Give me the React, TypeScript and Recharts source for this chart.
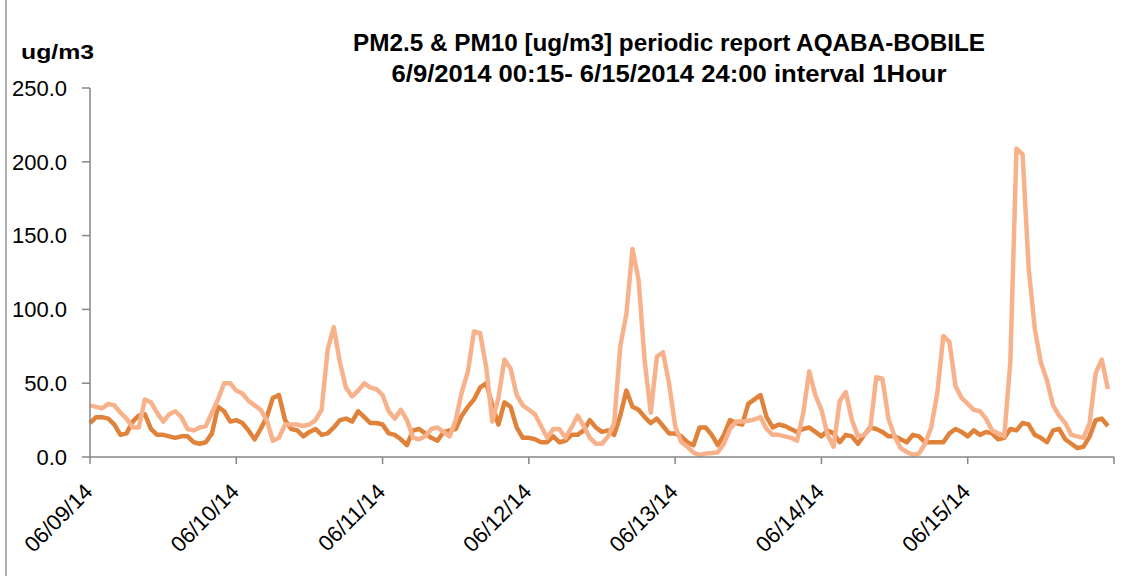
import React from 'react';
import { LineChart, Line, XAxis, YAxis } from 'recharts';

const dayLabels = ['06/09/14', '06/10/14', '06/11/14', '06/12/14', '06/13/14', '06/14/14', '06/15/14'];
const xTicks = [0, 24, 48, 72, 96, 120, 144, 168];
const yTicks = [0, 50, 100, 150, 200, 250];

const titleLine1 = 'PM2.5 & PM10 [ug/m3] periodic report AQABA-BOBILE';
const titleLine2 = '6/9/2014 00:15- 6/15/2014 24:00 interval 1Hour';
const unitLabel = 'ug/m3';

// PM2.5 hourly (dark orange)
const pm25 = [
  23, 27, 27, 26, 22, 15, 16, 24, 28, 29, 19, 15, 15, 14, 13, 14, 14, 10, 9, 10, 16, 34, 31, 24,
  25, 23, 18, 12, 19, 27, 40, 42, 25, 19, 18, 14, 17, 19, 15, 16, 20, 25, 26, 24, 31, 27, 23, 23,
  22, 16, 15, 12, 8, 18, 19, 16, 13, 11, 17, 18, 19, 28, 34, 39, 47, 50, 35, 22, 37, 34, 20, 13,
  13, 12, 10, 10, 14, 10, 11, 15, 15, 18, 25, 20, 17, 18, 15, 28, 45, 34, 32, 27, 23, 26, 21, 16,
  16, 14, 10, 8, 20, 20, 15, 8, 15, 25, 23, 22, 36, 39, 42, 27, 20, 22, 21, 19, 17, 19, 20, 17,
  14, 18, 16, 10, 15, 14, 9, 15, 20, 19, 17, 14, 14, 12, 10, 15, 14, 10, 10, 10, 10, 16, 19, 17,
  14, 18, 15, 17, 16, 12, 13, 19, 18, 23, 22, 15, 13, 10, 18, 19, 12, 9, 6, 7, 14, 25, 26, 21,
];

// PM10 hourly (light salmon)
const pm10 = [
  35, 34, 33, 36, 35, 30, 26, 20, 20, 39, 37, 30, 24, 29, 31, 27, 19, 18, 20, 21, 30, 39, 50, 50,
  45, 43, 38, 35, 32, 25, 11, 13, 22, 22, 22, 21, 22, 25, 32, 73, 88, 64, 47, 41, 45, 50, 47, 46,
  42, 31, 26, 32, 25, 13, 12, 14, 19, 20, 17, 14, 25, 44, 58, 85, 84, 61, 24, 40, 66, 60, 42, 35,
  32, 29, 21, 13, 19, 19, 13, 20, 28, 21, 13, 9, 9, 14, 23, 75, 97, 141, 120, 65, 30, 68, 71, 50,
  21, 10, 7, 3, 1.5, 2.3, 2.7, 3.2, 9, 19, 24, 24, 24.5, 25.4, 27, 19, 15, 15, 14, 13, 11, 29.5, 58, 42,
  32, 15, 7, 38, 44, 25, 14, 15, 19, 54, 53, 26, 14, 6, 3.4, 1.5, 2.3, 9, 20, 43, 82, 78, 48, 40,
  36, 32, 31, 26, 18, 16, 14, 65, 209, 205, 128, 87, 64, 52, 35, 28, 23, 15, 14, 13, 23, 57, 66, 46,
];

const data = pm25.map((v, i) => ({ h: i, pm25: v, pm10: pm10[i] }));

const FONT = '"Liberation Sans", Arial, sans-serif';
const AXIS = '#868686';

const XTick = (props: any) => {
  const { x, y, payload } = props;
  const idx = xTicks.indexOf(payload.value);
  if (idx < 0 || idx >= dayLabels.length) return <g />;
  const ax = x + 4;
  const ay = y + 28;
  return (
    <text
      x={ax}
      y={ay}
      textAnchor="end"
      transform={`rotate(-45, ${ax}, ${ay})`}
      fontFamily={FONT}
      fontSize={22}
      fill="#000"
    >
      {dayLabels[idx]}
    </text>
  );
};

export default function App() {
  return (
    <div style={{ position: 'absolute', left: 0, top: 0, width: 1139, height: 576, background: '#fff' }}>
      <LineChart
        width={1139}
        height={576}
        data={data}
        margin={{ top: 88, right: 25, bottom: 19, left: 0 }}
      >
        <XAxis
          dataKey="h"
          type="number"
          domain={[0, 168]}
          ticks={xTicks}
          interval={0}
          height={100}
          tick={<XTick />}
          tickSize={7}
          tickMargin={1}
          axisLine={{ stroke: AXIS, strokeWidth: 1.5 }}
          tickLine={{ stroke: AXIS, strokeWidth: 1.5 }}
        />
        <YAxis
          type="number"
          domain={[0, 250]}
          ticks={yTicks}
          interval={0}
          width={90}
          tickFormatter={(v: number) => v.toFixed(1)}
          tick={{ fill: '#000', fontSize: 22, fontFamily: FONT }}
          tickSize={8}
          tickMargin={15}
          axisLine={{ stroke: AXIS, strokeWidth: 1.5 }}
          tickLine={{ stroke: AXIS, strokeWidth: 1.5 }}
        />
        <Line
          dataKey="pm25"
          stroke="#E0823A"
          strokeWidth={4.5}
          dot={false}
          activeDot={false}
          strokeLinejoin="round"
          isAnimationActive={false}
        />
        <Line
          dataKey="pm10"
          stroke="#F7B28C"
          strokeWidth={4.5}
          dot={false}
          activeDot={false}
          strokeLinejoin="round"
          isAnimationActive={false}
        />
      </LineChart>
      <svg
        width={1139}
        height={576}
        style={{ position: 'absolute', left: 0, top: 0, pointerEvents: 'none' }}
      >
        <line x1={6} y1={0} x2={6} y2={576} stroke="#9a9a9a" strokeWidth={1.5} />
        <text
          x={669}
          y={51}
          textAnchor="middle"
          fontFamily={FONT}
          fontWeight="bold"
          fontSize={23}
          textLength={632}
          lengthAdjust="spacingAndGlyphs"
          fill="#000"
        >
          {titleLine1}
        </text>
        <text
          x={669}
          y={82}
          textAnchor="middle"
          fontFamily={FONT}
          fontWeight="bold"
          fontSize={23}
          textLength={555}
          lengthAdjust="spacingAndGlyphs"
          fill="#000"
        >
          {titleLine2}
        </text>
        <text
          x={21}
          y={59}
          fontFamily={FONT}
          fontWeight="bold"
          fontSize={21}
          textLength={73}
          lengthAdjust="spacingAndGlyphs"
          fill="#000"
        >
          {unitLabel}
        </text>
      </svg>
    </div>
  );
}
